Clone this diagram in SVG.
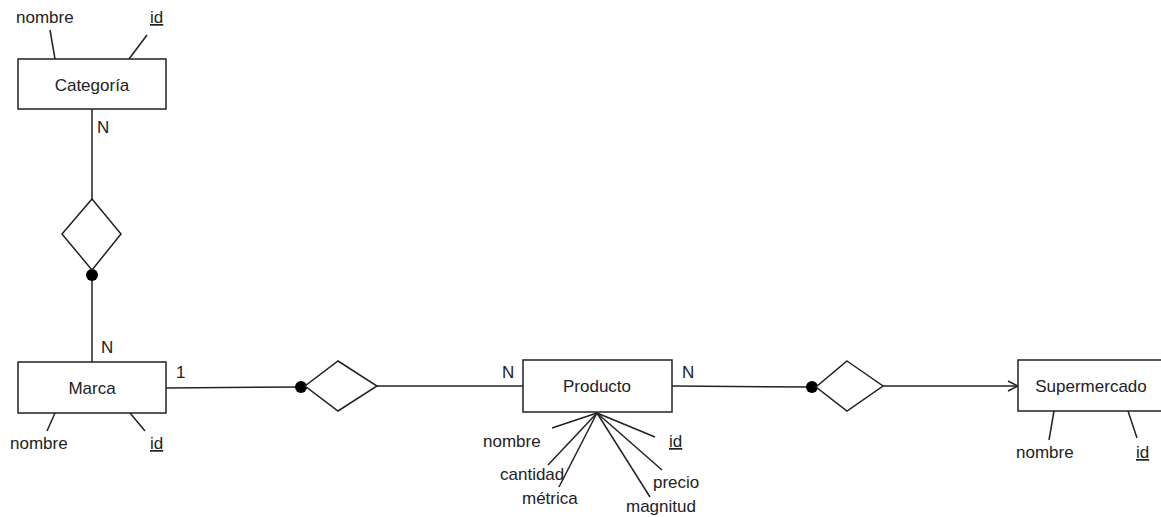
<svg xmlns="http://www.w3.org/2000/svg" width="1161" height="517" viewBox="0 0 1161 517">
<style>
text{font-family:"Liberation Sans",Arial,sans-serif;font-size:17px;fill:#222}
.c{text-anchor:middle}
.u{text-decoration:underline}
.box{fill:#fff;stroke:#222;stroke-width:1.5}
.ln{stroke:#222;stroke-width:1.5;fill:none}
.dia{fill:#fff;stroke:#222;stroke-width:1.5}
</style>
<defs>
<marker id="arr" markerWidth="12" markerHeight="12" refX="11" refY="6" orient="auto" markerUnits="userSpaceOnUse">
<path d="M1,1 L11,6 L1,11" fill="none" stroke="#222" stroke-width="1.5"/>
</marker>
</defs>
<rect width="1161" height="517" fill="#fff"/>
<g id="connectors">
<line class="ln" x1="92" y1="109" x2="92" y2="199"/>
<line class="ln" x1="92" y1="270" x2="92" y2="362"/>
<line class="ln" x1="166" y1="388" x2="301" y2="387"/>
<line class="ln" x1="377" y1="386" x2="523" y2="386"/>
<line class="ln" x1="672" y1="386" x2="812" y2="387"/>
<line class="ln" x1="883" y1="386" x2="1018" y2="386" marker-end="url(#arr)"/>
<circle cx="92" cy="275" r="6" fill="#000"/>
<circle cx="301" cy="387" r="6" fill="#000"/>
<circle cx="812" cy="387" r="6" fill="#000"/>
<text x="97" y="133">N</text>
<text x="101" y="353">N</text>
<text x="176" y="378">1</text>
<text x="502" y="378">N</text>
<text x="682" y="378">N</text>
</g>
<g id="rel-categoria-marca">
<polygon class="dia" points="92,199 121,234 92,270 62,234"/>
</g>
<g id="rel-marca-producto">
<polygon class="dia" points="338,361 377,386 338,411 305,386"/>
</g>
<g id="rel-producto-supermercado">
<polygon class="dia" points="847,361 883,386 847,411 816,387"/>
</g>
<g id="categoria">
<rect class="box" x="18" y="59" width="148" height="50"/>
<text class="c" x="92" y="91">Categoría</text>
<line class="ln" x1="50" y1="30" x2="55" y2="59"/>
<line class="ln" x1="147" y1="35" x2="129" y2="59"/>
<text x="16" y="23">nombre</text>
<text class="u" x="150" y="23">id</text>
</g>
<g id="marca">
<rect class="box" x="18" y="362" width="148" height="51"/>
<text class="c" x="92" y="394">Marca</text>
<line class="ln" x1="55" y1="413" x2="47" y2="431"/>
<line class="ln" x1="130" y1="413" x2="145" y2="431"/>
<text x="10" y="449">nombre</text>
<text class="u" x="150" y="449">id</text>
</g>
<g id="producto">
<rect class="box" x="523" y="360" width="149" height="52"/>
<text class="c" x="597" y="392">Producto</text>
<line class="ln" x1="597" y1="413" x2="552" y2="428"/>
<line class="ln" x1="597" y1="413" x2="548" y2="465"/>
<line class="ln" x1="597" y1="413" x2="559" y2="487"/>
<line class="ln" x1="597" y1="413" x2="650" y2="497"/>
<line class="ln" x1="597" y1="413" x2="662" y2="470"/>
<line class="ln" x1="597" y1="413" x2="655" y2="437"/>
<text x="483" y="447">nombre</text>
<text x="500" y="480">cantidad</text>
<text x="522" y="504">métrica</text>
<text x="626" y="512">magnitud</text>
<text x="653" y="488">precio</text>
<text class="u" x="669" y="447">id</text>
</g>
<g id="supermercado">
<rect class="box" x="1018" y="360" width="150" height="51"/>
<text class="c" x="1091" y="392">Supermercado</text>
<line class="ln" x1="1054" y1="411" x2="1049" y2="440"/>
<line class="ln" x1="1128" y1="411" x2="1137" y2="438"/>
<text x="1016" y="458">nombre</text>
<text class="u" x="1136" y="458">id</text>
</g>
</svg>
